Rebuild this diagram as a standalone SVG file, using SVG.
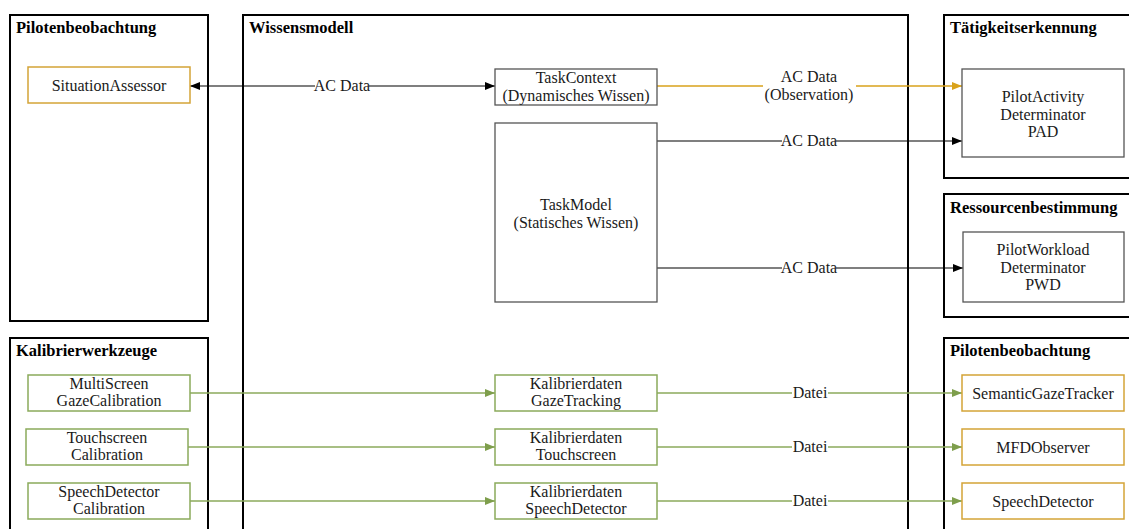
<svg xmlns="http://www.w3.org/2000/svg" width="1129" height="529" viewBox="0 0 1129 529">
<style>
text{font-family:"Liberation Serif","Times New Roman",serif;font-size:16px;fill:#1a1a1a;text-anchor:middle}
.title{font-weight:bold;font-size:16.5px;text-anchor:start;fill:#000}
.cont{fill:none;stroke:#000;stroke-width:2}
.nb{fill:#fff;stroke:#555;stroke-width:1.3}
.ng{fill:#fff;stroke:#D4A437;stroke-width:1.5}
.nv{fill:#fff;stroke:#8BAA5B;stroke-width:1.5}
.lb{fill:none;stroke:#000;stroke-width:1.2}
.lo{fill:none;stroke:#D9A21B;stroke-width:1.4}
.lg{fill:none;stroke:#8BAA5B;stroke-width:1.4}
</style>
<defs>
<marker id="ab" viewBox="0 0 10 8" refX="10" refY="4" markerWidth="10" markerHeight="8" markerUnits="userSpaceOnUse" orient="auto-start-reverse"><path d="M0,0L10,4L0,8z" fill="#000"/></marker>
<marker id="ao" viewBox="0 0 10 8" refX="10" refY="4" markerWidth="10" markerHeight="8" markerUnits="userSpaceOnUse" orient="auto"><path d="M0,0L10,4L0,8z" fill="#D9A21B"/></marker>
<marker id="ag" viewBox="0 0 10 8" refX="10" refY="4" markerWidth="10" markerHeight="8" markerUnits="userSpaceOnUse" orient="auto"><path d="M0,0L10,4L0,8z" fill="#7E9E4C"/></marker>
</defs>
<rect width="1129" height="529" fill="#fff"/>

<g id="c-pilot-left"><rect class="cont" x="10" y="15" width="198" height="306"/><text class="title" x="16" y="33">Pilotenbeobachtung</text></g>
<g id="c-kalib"><rect class="cont" x="10" y="338" width="198" height="200"/><text class="title" x="16" y="356">Kalibrierwerkzeuge</text></g>
<g id="c-wissen"><rect class="cont" x="243" y="15" width="665" height="530"/><text class="title" x="249" y="33">Wissensmodell</text></g>
<g id="c-taetig"><rect class="cont" x="944" y="15" width="200" height="163"/><text class="title" x="950" y="33">Tätigkeitserkennung</text></g>
<g id="c-ress"><rect class="cont" x="944" y="194" width="200" height="123"/><text class="title" x="950" y="213">Ressourcenbestimmung</text></g>
<g id="c-pilot-right"><rect class="cont" x="944" y="338" width="200" height="200"/><text class="title" x="950" y="356">Pilotenbeobachtung</text></g>

<g id="connectors">
<line class="lb" x1="190" y1="86" x2="315" y2="86" marker-start="url(#ab)"/>
<line class="lb" x1="369" y1="86" x2="495" y2="86" marker-end="url(#ab)"/>
<text x="342" y="91">AC Data</text>
<line class="lo" x1="657" y1="86" x2="763" y2="86"/>
<line class="lo" x1="856" y1="86" x2="962" y2="86" marker-end="url(#ao)"/>
<text x="809" y="82">AC Data</text><text x="809" y="100">(Observation)</text>
<line class="lb" x1="657" y1="141" x2="782" y2="141"/>
<line class="lb" x1="836" y1="141" x2="962" y2="141" marker-end="url(#ab)"/>
<text x="809" y="146">AC Data</text>
<line class="lb" x1="657" y1="268" x2="782" y2="268"/>
<line class="lb" x1="836" y1="268" x2="963" y2="268" marker-end="url(#ab)"/>
<text x="809" y="273">AC Data</text>
<line class="lg" x1="190" y1="393" x2="495" y2="393" marker-end="url(#ag)"/>
<line class="lg" x1="188" y1="447" x2="495" y2="447" marker-end="url(#ag)"/>
<line class="lg" x1="190" y1="501" x2="495" y2="501" marker-end="url(#ag)"/>
<line class="lg" x1="657" y1="393" x2="792" y2="393"/>
<line class="lg" x1="828" y1="393" x2="962" y2="393" marker-end="url(#ag)"/>
<text x="810" y="398">Datei</text>
<line class="lg" x1="657" y1="447" x2="792" y2="447"/>
<line class="lg" x1="828" y1="447" x2="962" y2="447" marker-end="url(#ag)"/>
<text x="810" y="452">Datei</text>
<line class="lg" x1="657" y1="501" x2="792" y2="501"/>
<line class="lg" x1="828" y1="501" x2="962" y2="501" marker-end="url(#ag)"/>
<text x="810" y="506">Datei</text>
</g>

<g id="n-situation"><rect class="ng" x="28" y="67" width="162" height="36"/><text x="109" y="90.5">SituationAssessor</text></g>
<g id="n-taskcontext"><rect class="nb" x="495" y="69" width="162" height="36"/><text x="576" y="83">TaskContext</text><text x="576" y="100.5">(Dynamisches Wissen)</text></g>
<g id="n-taskmodel"><rect class="nb" x="495" y="123" width="162" height="179"/><text x="576" y="210">TaskModel</text><text x="576" y="227.5">(Statisches Wissen)</text></g>
<g id="n-pad"><rect class="nb" x="962" y="69" width="162" height="88"/><text x="1043" y="102">PilotActivity</text><text x="1043" y="119.5">Determinator</text><text x="1043" y="137">PAD</text></g>
<g id="n-pwd"><rect class="nb" x="963" y="232" width="161" height="70"/><text x="1043" y="255">PilotWorkload</text><text x="1043" y="272.5">Determinator</text><text x="1043" y="290">PWD</text></g>
<g id="n-msgc"><rect class="nv" x="28" y="375" width="162" height="36"/><text x="109" y="388.5">MultiScreen</text><text x="109" y="406">GazeCalibration</text></g>
<g id="n-tsc"><rect class="nv" x="26" y="429" width="162" height="36"/><text x="107" y="442.5">Touchscreen</text><text x="107" y="460">Calibration</text></g>
<g id="n-sdc"><rect class="nv" x="28" y="483" width="162" height="36"/><text x="109" y="496.5">SpeechDetector</text><text x="109" y="514">Calibration</text></g>
<g id="n-kdgt"><rect class="nv" x="495" y="375" width="162" height="36"/><text x="576" y="388.5">Kalibrierdaten</text><text x="576" y="406">GazeTracking</text></g>
<g id="n-kdts"><rect class="nv" x="495" y="429" width="162" height="36"/><text x="576" y="442.5">Kalibrierdaten</text><text x="576" y="460">Touchscreen</text></g>
<g id="n-kdsd"><rect class="nv" x="495" y="483" width="162" height="36"/><text x="576" y="496.5">Kalibrierdaten</text><text x="576" y="514">SpeechDetector</text></g>
<g id="n-sgt"><rect class="ng" x="962" y="375" width="162" height="36"/><text x="1043" y="398.5">SemanticGazeTracker</text></g>
<g id="n-mfd"><rect class="ng" x="962" y="429" width="162" height="36"/><text x="1043" y="452.5">MFDObserver</text></g>
<g id="n-sd"><rect class="ng" x="962" y="483" width="162" height="36"/><text x="1043" y="506.5">SpeechDetector</text></g>
</svg>
